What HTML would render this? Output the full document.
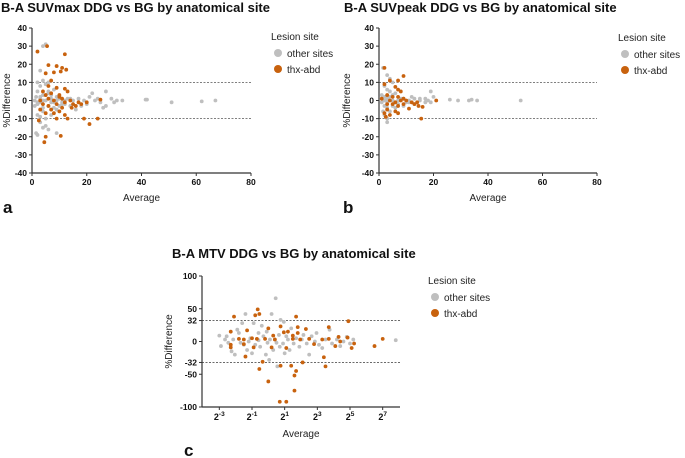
<!DOCTYPE html>
<html><head><meta charset="utf-8"><style>
html,body{margin:0;padding:0;background:#fff}
svg{display:block;font-family:"Liberation Sans",Arial,sans-serif}
</style></head><body>
<svg id="chart" width="685" height="458" viewBox="0 0 685 458"></svg>
<script>
// ---- Panel a data (SUVmax) ----
const aTicksX=[0,20,40,60,80];
const aTicksY=[40,30,20,10,0,-10,-20,-30,-40];
const aGreyX=[5,4,3,4,2,3,5,6,2,4,6,8,1.5,3,5,7,9,11,13,15,17,19,21,22,23,25,27,26,27,29,30,31,33,42,41.5,51,62,67,2,4,6,8,10,12,14,16,2,3,5,7,1.5,2,4,5,6,9,3,18,20,24,4,1,1,3,5,7,9,11,3,6,8,10,12,14,2,4,7,9];
const aGreyY=[31,30,16.5,11,10,8,9,10,5,3,5,6,2,1,0,1,0,-1,1,0,1,0,2,4,0,-1,5,-4,-3,1,-1,0,0,0.5,0.5,-1,-0.5,0,-2,-4,-3,-4,-3,-2,-3,-5,-8,-9,-10,-8,-18,-19,-15,-14,-16,-18,-12,-3,-2,1,-6,0,-3,2,3,-1,2,-2,-1,4,-1,1,0,1,-1,0,3,-5,-6];
const aOrangeX=[2,5.5,12,6,9,5,8,11,12.5,10.5,7,6,9,12,4,5,7,10,13,3,6,8,10,11,12,14,17,20,25,4,6,9,11,15,3,7,10,12,13,9,19,24,21,2.5,5,10.5,4.5,5,8,16,14.5,18];
const aOrangeY=[27,30,25.5,19.5,19,15,15.5,18,17,16,11,8,7,6.5,5,3,4,3,5,0,1,0,2,1,-1,0,-1,-1,0.5,-2,-3,-2,-4,-2,-5,-5,-6,-8,-10,-10,-10,-10,-13,-11,-20,-19.5,-23,-7,-7,-3,-4,-2];
const aRefLines=[10,-10];

// ---- Panel b data (SUVpeak) ----
const bTicksX=[0,20,40,60,80];
const bTicksY=[40,30,20,10,0,-10,-20,-30,-40];
const bGreyX=[1.5,3,4,5,2,3,4,6,1,2,3,5,7,9,11,13,15,17,19,20,19,26,29,33,34,36,52,1,2,3,5,7,9,11,1.5,2,3,3,4,6,13,15,17,18,12,2,4,6,8,10,3,5];
const bGreyY=[18,14,12,10,8,6,5,4,3,2,1,0,0,1,0,1,0,1,5,2,-1,0.5,0,0,0.5,0,0,-1,-3,-4,-3,-2,-3,-1,-6,-8,-10,-12,-6,-4,-2,1,-1,0,2,0,2,-1,1,-1,-1,3];
const bOrangeX=[2,2,4,9,7,6,7,8,3,5,7,9,1,4,6,8,10,12,14,16,21,3,5,7,9,11,3,6,2,4,7,2.5,15.5,13,14.5];
const bOrangeY=[18,9,11,13.5,11,7.5,6,5,3,2,2,1,1,0,-1,0,0,-1,-1,-3.5,0,-2,-2,-3,-2,-4.5,-5,-6,-7,-8,-7,-9,-10,-2,-3];
const bRefLines=[10,-10];

// ---- Panel c data (MTV, x = log2 of average) ----
const cTicksExp=[-3,-1,1,3,5,7];
const cTicksY=[100,50,32,0,-32,-50,-100];
const cGreyLog2=[-3,-2.9,-2.65,-2.55,-2.45,-2.05,-1.9,-1.6,-1.4,-1.7,-1.3,-1.1,-1.0,-0.8,-0.6,-0.5,-0.4,-0.3,-0.15,-0.05,0.05,0.2,0.3,0.45,0.5,0.55,0.65,0.75,0.9,0.95,1.0,1.2,1.3,1.4,1.55,1.7,1.9,2.05,2.15,2.35,2.5,2.65,2.85,2.95,3.1,3.3,3.5,3.75,3.9,4.2,4.4,4.6,4.8,5.0,5.2,7.8,-2.25,-1.8,-0.9,-0.1,0.1,0.4,0.7,1.1,-0.6,-1.2,-1.5,-2.15];
const cGreyY=[9,-7,3,8,-2,-20,18,28,42,-2,-13,5,-18,-5,2,-8,24,8,-20,-2,-28,42,-13,66,-2,-38,10,33,-3,30,-18,3,-13,20,-3,5,-8,3,10,-3,-20,8,0,13,-5,-10,3,18,-3,3,-7,0,7,-3,3,2,-15,13,28,15,3,3,-8,8,13,0,-5,3];
const cOrangeLog2=[-2.1,-2.3,-2.3,-2.3,-1.8,-1.5,-1.5,-1.4,-1.3,-1.0,-0.9,-0.8,-0.65,-0.55,-0.7,-0.55,-0.35,-0.2,0.0,0.0,0.2,0.3,0.4,0.7,0.75,0.75,0.95,1.1,1.1,1.2,1.4,1.5,1.5,1.6,1.6,1.7,1.7,1.8,1.8,1.95,2.1,2.3,2.5,2.8,3.3,3.4,3.5,3.7,3.7,4.1,4.3,4.4,4.9,4.85,5.1,5.25,6.5,7.0];
const cOrangeY=[38,15,-5,-9,4,3,-4,-23,17,5,-9,40,49,42,4,-42,-31,4,-61,20,-9,9,3,-92,23,-37,14,-92,-10,15,-37,4,9,-75,-52,-45,38,22,13,3,-32,19,4,-4,3,-24,-38,22,4,-7,7,0,31,6,-10,-3,-7,4];
const cRefLines=[32,-32];

const NS="http://www.w3.org/2000/svg";
const svg=document.getElementById('chart');
const GREY="#bfbfbf", ORANGE="#c8620e", AX="#333";
function el(tag,attrs,parent){const e=document.createElementNS(NS,tag);for(const k in attrs)e.setAttribute(k,attrs[k]);(parent||svg).appendChild(e);return e;}
function txt(x,y,s,attrs,parent){const t=el('text',Object.assign({x:x,y:y},attrs),parent);t.textContent=s;return t;}

function panel(p){
  const g=el('g',{});
  
  
  const sx=v=>p.x0+(v-p.xmin)/(p.xmax-p.xmin)*(p.x1-p.x0);
  const sy=v=>p.y0+(p.ymax-v)/(p.ymax-p.ymin)*(p.y1-p.y0);
  const t=txt(p.titleX,p.titleY,p.title,{'font-size':13,'font-weight':'bold',fill:'#111'},g);
  
  
  // ref lines
  p.refs.forEach(r=>{
    const l=el('line',{x1:p.x0,x2:p.x1,y1:sy(r),y2:sy(r),stroke:'#555','stroke-width':0.8,'stroke-dasharray':'2,1.5'},g);
    
    
  });
  // axes
  const ya=el('line',{x1:p.x0,x2:p.x0,y1:p.y0,y2:p.y1,stroke:AX,'stroke-width':1.2},g);
  
  
  const xa=el('line',{x1:p.x0,x2:p.x1,y1:p.y1,y2:p.y1,stroke:AX,'stroke-width':1.2},g);
  
  
  p.ticksY.forEach(v=>{
    el('line',{x1:p.x0-3,x2:p.x0,y1:sy(v),y2:sy(v),stroke:AX,'stroke-width':1},g);
    const tl=txt(p.x0-5,sy(v)+3,String(v),{'font-size':8.5,'font-weight':'bold','text-anchor':'end',fill:'#111'},g);
    
    
  });
  p.ticksX.forEach(v=>{
    el('line',{x1:sx(v),x2:sx(v),y1:p.y1,y2:p.y1+3,stroke:AX,'stroke-width':1},g);
    let tl;
    if(p.log){
      tl=txt(sx(v),p.y1+13,'2',{'font-size':9,'font-weight':'bold','text-anchor':'middle',fill:'#111'},g);
      const ts=el('tspan',{dy:-4,'font-size':6.5},tl);ts.textContent=String(v);
    } else {
      tl=txt(sx(v),p.y1+12,String(v),{'font-size':8.5,'font-weight':'bold','text-anchor':'middle',fill:'#111'},g);
    }
    
    
  });
  const xt=txt((p.x0+p.x1)/2,p.xLabelY,'Average',{'font-size':10,'text-anchor':'middle',fill:'#222'},g);
  
  
  const yc=(p.y0+p.y1)/2;
  const yt=txt(p.yLabelX,yc,'%Difference',{'font-size':10,'text-anchor':'middle',fill:'#222',transform:'rotate(-90 '+p.yLabelX+' '+yc+')'},g);
  
  
  // points
  const series=[[p.gx,p.gy,GREY,'point-other-sites'],[p.ox,p.oy,ORANGE,'point-thx-abd']];
  series.forEach(s=>{
    s[0].forEach((xv,i)=>{
      const c=el('circle',{cx:sx(xv),cy:sy(s[1][i]),r:1.9,fill:s[2]},g);
      
      
    });
  });
  // legend
  const lg=el('g',{},g);
  
  
  txt(p.legX,p.legY,'Lesion site',{'font-size':10,fill:'#222'},lg);
  [['other sites',GREY],['thx-abd',ORANGE]].forEach((e,i)=>{
    const eg=el('g',{},lg);
    
    
    el('circle',{cx:p.legX+7,cy:p.legY+13+i*16,r:4,fill:e[1]},eg);
    txt(p.legX+16,p.legY+17+i*16,e[0],{'font-size':10,fill:'#222'},eg);
  });
  const pl=txt(p.lblX,p.lblY,p.lbl,{'font-size':17,'font-weight':'bold',fill:'#111'},g);
  
  
}

panel({name:'panel-a-suvmax',title:'B-A SUVmax DDG vs BG by anatomical site',titleX:1,titleY:12,
  x0:32,x1:251,y0:28,y1:173,xmin:0,xmax:80,ymin:-40,ymax:40,ticksX:aTicksX,ticksY:aTicksY,refs:aRefLines,
  gx:aGreyX,gy:aGreyY,ox:aOrangeX,oy:aOrangeY,xLabelY:201,yLabelX:10,legX:271,legY:40,lbl:'a',lblX:3,lblY:213});
panel({name:'panel-b-suvpeak',title:'B-A SUVpeak DDG vs BG by anatomical site',titleX:344,titleY:12,
  x0:379,x1:597,y0:28,y1:173,xmin:0,xmax:80,ymin:-40,ymax:40,ticksX:bTicksX,ticksY:bTicksY,refs:bRefLines,
  gx:bGreyX,gy:bGreyY,ox:bOrangeX,oy:bOrangeY,xLabelY:201,yLabelX:350,legX:618,legY:41,lbl:'b',lblX:343,lblY:213});
panel({name:'panel-c-mtv',title:'B-A MTV DDG vs BG by anatomical site',titleX:172,titleY:258,log:true,
  x0:202,x1:400,y0:276,y1:407,xmin:-4.06,xmax:8.06,ymin:-100,ymax:100,ticksX:cTicksExp,ticksY:cTicksY,refs:cRefLines,
  gx:cGreyLog2,gy:cGreyY,ox:cOrangeLog2,oy:cOrangeY,xLabelY:437,yLabelX:172,legX:428,legY:284,lbl:'c',lblX:184,lblY:456});
</script>
</body></html>
